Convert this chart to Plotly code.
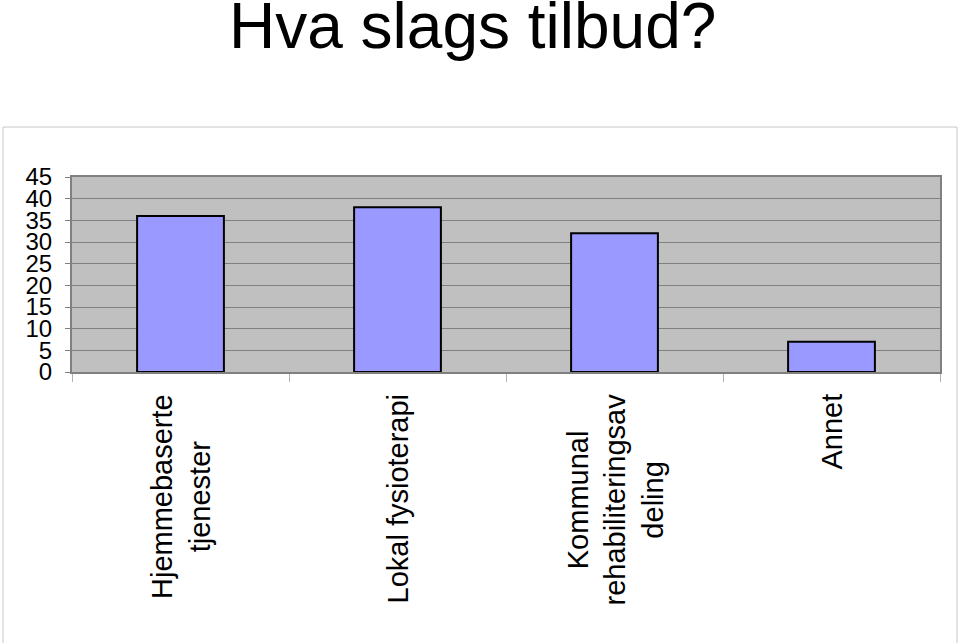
import plotly.graph_objects as go

categories = ["Hjemmebaserte<br>tjenester", "Lokal fysioterapi",
              "Kommunal<br>rehabiliteringsav<br>deling", "Annet"]
values = [36, 38, 32, 7]
y_ticks = [0, 5, 10, 15, 20, 25, 30, 35, 40, 45]

W, H = 960, 643
L, R, T, B = 72, 940, 177, 372

fig = go.Figure(go.Bar(
    x=categories, y=values, width=0.4,
    marker=dict(color="#9999FF", line=dict(color="#000000", width=2)),
))

def px2paper_x(px):
    return (px - L) / (R - L)

def px2paper_y(py):
    return (B - py) / (B - T)

fig.add_shape(type="rect", xref="paper", yref="paper",
              x0=px2paper_x(3), x1=px2paper_x(957),
              y0=px2paper_y(660), y1=px2paper_y(127),
              line=dict(color="#C8C8C8", width=1), layer="below")

fig.add_annotation(text="Hva slags tilbud?", xref="paper", yref="paper",
                   x=px2paper_x(472), y=px2paper_y(-12), xanchor="center", yanchor="top",
                   showarrow=False, font=dict(size=64, color="#000000", family="Liberation Sans"))

# category labels: rotated, block top-anchored, lines centred
for cat in categories:
    fig.add_annotation(text=cat, xref="x", yref="paper", x=cat, y=px2paper_y(392),
                       xanchor="center", yanchor="top", textangle=-90, align="center",
                       showarrow=False, font=dict(size=29, color="#000000", family="Liberation Sans"))

fig.update_layout(
    width=W, height=H,
    margin=dict(l=L, r=W - R, t=T, b=H - B, pad=0),
    paper_bgcolor="white", plot_bgcolor="#C0C0C0",
    font=dict(family="Liberation Sans", color="#000000"),
    showlegend=False,
    bargap=0.6,
)
fig.update_xaxes(
    type="category", tickson="boundaries", ticks="outside", ticklen=8,
    tickcolor="#B0B0B0", showgrid=False, showticklabels=False,
    showline=True, linecolor="#808080", linewidth=2, mirror=True,
)
fig.update_yaxes(
    range=[0, 45], tickvals=y_ticks, ticks="outside", ticklen=5, tickcolor="#808080",
    showgrid=True, gridcolor="#808080", gridwidth=1, zeroline=False, ticklabelstandoff=8,
    tickfont=dict(size=24), showline=True, linecolor="#808080", linewidth=2, mirror=True,
)

fig.write_html("out.html", post_script="document.body.style.margin='0px';",
               config={"displayModeBar": False})
